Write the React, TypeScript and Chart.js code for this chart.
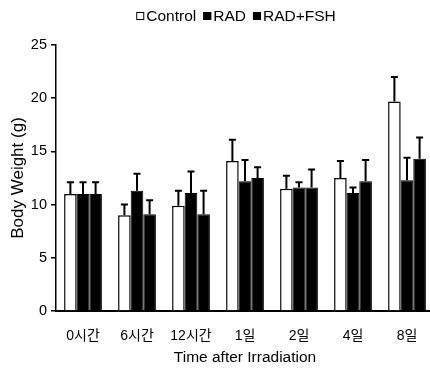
import React, { useEffect, useRef } from "react";
import { Chart, registerables } from "chart.js";

Chart.register(...registerables);

const categories = ["0시간", "6시간", "12시간", "1일", "2일", "4일", "8일"];
const seriesNames = ["Control", "RAD", "RAD+FSH"];
const controlValues = [11.0, 9.0, 9.9, 14.1, 11.5, 12.5, 19.7];
const controlErrors = [1.1, 1.0, 1.4, 2.0, 1.2, 1.6, 2.3];
const radValues = [11.0, 11.3, 11.1, 12.2, 11.6, 11.1, 12.3];
const radErrors = [1.1, 1.6, 2.0, 2.0, 0.5, 0.5, 2.1];
const radFshValues = [11.0, 9.1, 9.1, 12.5, 11.6, 12.2, 14.3];
const radFshErrors = [1.1, 1.3, 2.2, 1.0, 1.7, 2.0, 2.0];
const yTicks = [0, 5, 10, 15, 20, 25];

const FONT = "'Liberation Sans', Arial, 'Noto Sans CJK KR', sans-serif";

const errorBarPlugin = {
  id: "errorBars",
  afterDatasetsDraw(chart: any) {
    const ctx = chart.ctx;
    const yScale = chart.scales.y;
    chart.data.datasets.forEach((ds: any, di: number) => {
      const meta = chart.getDatasetMeta(di);
      const errs = ds.errors as number[];
      meta.data.forEach((bar: any, i: number) => {
        const v = ds.data[i];
        const top = yScale.getPixelForValue(v + errs[i]);
        ctx.save();
        ctx.strokeStyle = "#000";
        ctx.lineWidth = 2;
        ctx.beginPath();
        ctx.moveTo(bar.x, bar.y);
        ctx.lineTo(bar.x, top);
        ctx.moveTo(bar.x - 3.5, top);
        ctx.lineTo(bar.x + 3.5, top);
        ctx.stroke();
        ctx.restore();
      });
    });
  },
};

const legendPlugin = {
  id: "customLegend",
  afterDraw(chart: any) {
    const ctx = chart.ctx;
    ctx.save();
    ctx.font = `15.5px ${FONT}`;
    ctx.textBaseline = "middle";
    const box = 8;
    const gap = 2;
    const itemGap = 7;
    const widths = chart.data.datasets.map((ds: any) => ctx.measureText(ds.label).width);
    const total = widths.reduce((a: number, w: number) => a + box + gap + w, 0) + itemGap * (widths.length - 1);
    let x = 236 - total / 2;
    const yc = 16;
    chart.data.datasets.forEach((ds: any, i: number) => {
      ctx.fillStyle = ds.backgroundColor;
      ctx.fillRect(x, yc - box / 2, box, box);
      ctx.strokeStyle = "#000";
      ctx.lineWidth = 1;
      ctx.strokeRect(x + 0.5, yc - box / 2 + 0.5, box - 1, box - 1);
      x += box + gap;
      ctx.fillStyle = "#000";
      ctx.fillText(ds.label, x, yc + 1);
      x += widths[i] + itemGap;
    });
    ctx.restore();
  },
};

export default function App() {
  const ref = useRef<HTMLCanvasElement>(null);
  useEffect(() => {
    if (!ref.current) return;
    const chart = new Chart(ref.current, {
      type: "bar",
      data: {
        labels: categories,
        datasets: [
          {
            label: seriesNames[0],
            data: controlValues,
            errors: controlErrors,
            backgroundColor: "#ffffff",
            borderColor: "#000000",
            borderWidth: 1.5,
          } as any,
          {
            label: seriesNames[1],
            data: radValues,
            errors: radErrors,
            backgroundColor: "#000000",
            borderColor: "#000000",
            borderWidth: 1,
          } as any,
          {
            label: seriesNames[2],
            data: radFshValues,
            errors: radFshErrors,
            backgroundColor: "#000000",
            borderColor: "#000000",
            borderWidth: 1,
          } as any,
        ],
      },
      options: {
        animation: false,
        responsive: false,
        maintainAspectRatio: false,
        layout: { padding: { top: 45, right: 6, left: 0, bottom: 0 } },
        plugins: {
          legend: { display: false },
          tooltip: { enabled: false },
        },
        datasets: { bar: { barPercentage: 1.0, categoryPercentage: 0.7 } },
        scales: {
          x: {
            grid: { display: false, drawTicks: false },
            border: { color: "#000", width: 2 },
            ticks: {
              color: "#000",
              font: { family: FONT, size: 14 },
              padding: 17,
              maxRotation: 0,
              autoSkip: false,
            },
            title: {
              display: true,
              text: "Time after Irradiation",
              color: "#000",
              font: { family: FONT, size: 15.5 },
              padding: { top: 2, bottom: 2 },
            },
            afterFit: (s: any) => {
              s.height = 58;
            },
          },
          y: {
            min: yTicks[0],
            max: yTicks[yTicks.length - 1],
            afterBuildTicks: (s: any) => {
              s.ticks = yTicks.map((v) => ({ value: v }));
            },
            grid: {
              display: true,
              drawOnChartArea: false,
              drawTicks: true,
              tickLength: 5,
              color: "#000",
              lineWidth: 1.5,
            },
            border: { color: "#000", width: 1.5 },
            ticks: {
              color: "#000",
              font: { family: FONT, size: 14.5 },
              padding: 4,
            },
            title: {
              display: true,
              text: "Body Weight (g)",
              color: "#000",
              font: { family: FONT, size: 17 },
              padding: { top: 8, bottom: 0 },
            },
            afterFit: (s: any) => {
              s.width = 56;
            },
          },
        },
      },
      plugins: [errorBarPlugin, legendPlugin],
    } as any);
    return () => chart.destroy();
  }, []);
  return (
    <div
      style={{
        position: "fixed",
        left: 0,
        top: 0,
        width: 430,
        height: 369,
        overflow: "hidden",
        background: "#fff",
      }}
    >
      <canvas ref={ref} width={440} height={369} style={{ width: 440, height: 369, display: "block" }} />
    </div>
  );
}
